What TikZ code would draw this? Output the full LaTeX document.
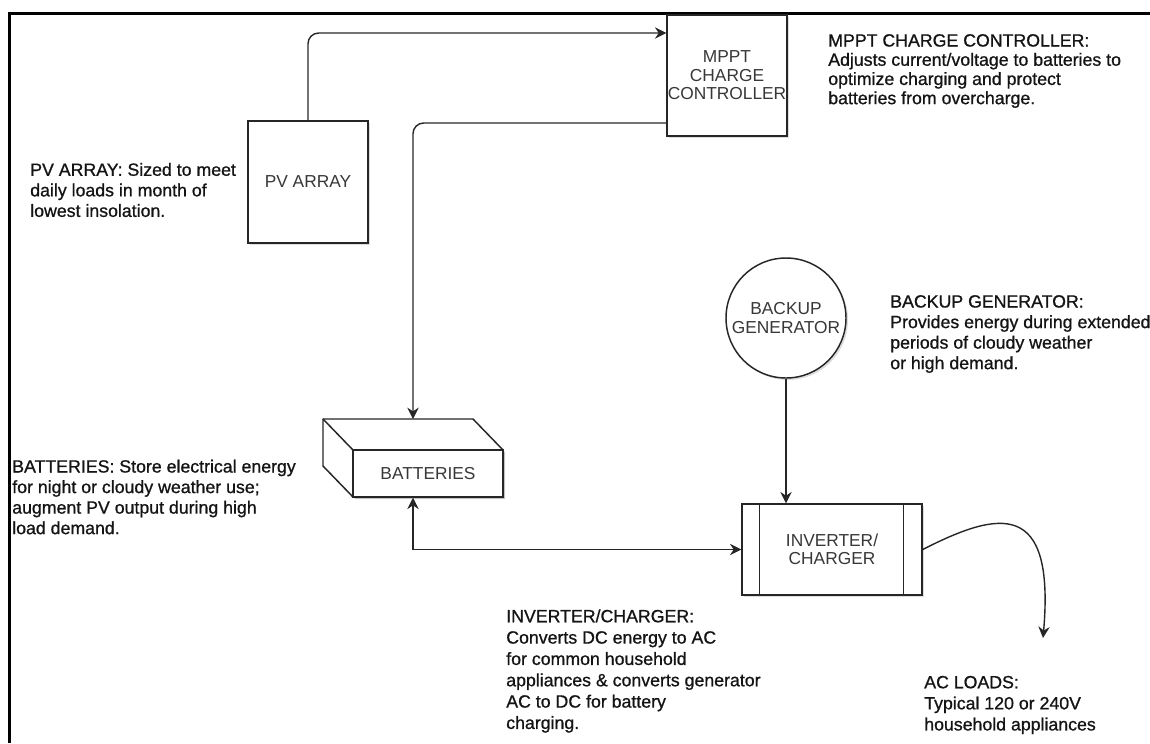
\documentclass[tikz,border=0pt]{standalone}
\usepackage{fontspec}
\setmainfont{Liberation Sans}
\newfontfamily\descfont[FakeBold=0.9]{Liberation Sans}
\usetikzlibrary{arrows.meta,shadows,calc}
\begin{document}
\begin{tikzpicture}[x=0.75pt,y=-0.75pt,
  shad/.style={drop shadow={shadow xshift=1.5pt,shadow yshift=-1.5pt,opacity=0.22,fill=black!60}},
  box/.style={draw=black!85,line width=1.1pt,fill=white,shad,inner sep=0pt,align=center,
    text=black!78,font=\fontsize{13}{13.9}\selectfont},
  desc/.style={anchor=west,align=left,inner sep=0pt,text=black!92,font=\descfont\fontsize{13.3}{15.4}\selectfont},
  conn/.style={draw=black!85,line width=1.05pt,-{Stealth[length=8.5pt,width=8.5pt,inset=2.8pt]}},
  conn2/.style={conn,{Stealth[length=8.5pt,width=8.5pt,inset=2.8pt]}-{Stealth[length=8.5pt,width=8.5pt,inset=2.8pt]}},
  frame/.style={draw=black,line width=2.2pt}
]
\useasboundingbox (0,0) rectangle (1150,743);
\draw[frame] (9.5,743) -- (9.5,13.5) -- (1150,13.5);

% nodes
\node[box,minimum width=90pt,minimum height=91.5pt] (pv) at (308,182) {PV ARRAY};
\node[box,minimum width=90pt,minimum height=90.75pt] (mppt) at (727,75.5) {MPPT\\CHARGE\\CONTROLLER};
\node[box,circle,minimum size=90pt] (gen) at (786,318) {BACKUP\\GENERATOR};
\node[box,minimum width=135pt,minimum height=68.25pt] (inv) at (832,549.5) {INVERTER/\\CHARGER};
\draw[draw=black!85,line width=1.1pt] ($(inv.north west)+(18,0)$) -- ($(inv.south west)+(18,0)$)
  ($(inv.north east)+(-19,0)$) -- ($(inv.south east)+(-19,0)$);

% batteries (3D box)
\path[draw=black!85,line width=1.1pt,fill=white,shad,line join=round]
  (323,419) -- (473,419) -- (503,450) -- (503,497) -- (353,497) -- (323,466) -- cycle;
\node[box,drop shadow={opacity=0},minimum width=112.5pt,minimum height=35.25pt] (batt) at (428,473.5) {BATTERIES};
\draw[draw=black!85,line width=1.1pt,line join=round] (323,419) -- (batt.north west);

% coordinates
\coordinate (m1) at (mppt.west |- 0,33);
\coordinate (m2) at (mppt.west |- 0,123);
\coordinate (btop) at (413,419);
\coordinate (bbot) at (batt.south -| 413,0);
\coordinate (acl) at (1043,638);

% connectors
\draw[conn,rounded corners=8] (pv.north) |- (m1);
\draw[conn,rounded corners=8] (m2) -| (btop);
\draw[conn] (gen.south) -- (gen.south |- inv.north);
\draw[conn2] (bbot) |- (inv.west);
\draw[conn] (inv.east) .. controls (1000,510) and (1055,500) .. (acl);

% descriptions
\node[desc] (dpv) at (30,190) {PV ARRAY: Sized to meet\\daily loads in month of\\lowest insolation.};
\node[desc,font=\descfont\fontsize{13.3}{14.4}\selectfont] (dmppt) at (828,71) {MPPT CHARGE CONTROLLER:\\Adjusts current/voltage to batteries to\\optimize charging and protect\\batteries from overcharge.};
\node[desc] (dgen) at (890,334) {BACKUP GENERATOR:\\Provides energy during extended\\periods of cloudy weather\\or high demand.};
\node[desc] (dbatt) at (12,497) {BATTERIES: Store electrical energy\\for night or cloudy weather use;\\augment PV output during high\\load demand.};
\node[desc,font=\descfont\fontsize{13.3}{16}\selectfont] (dinv) at (506,671) {INVERTER/CHARGER:\\Converts DC energy to AC\\for common household\\appliances \& converts generator\\AC to DC for battery\\charging.};
\node[desc,font=\descfont\fontsize{13.3}{15.8}\selectfont] (dac) at (924,705) {AC LOADS:\\Typical 120 or 240V\\household appliances};
\end{tikzpicture}
\end{document}
